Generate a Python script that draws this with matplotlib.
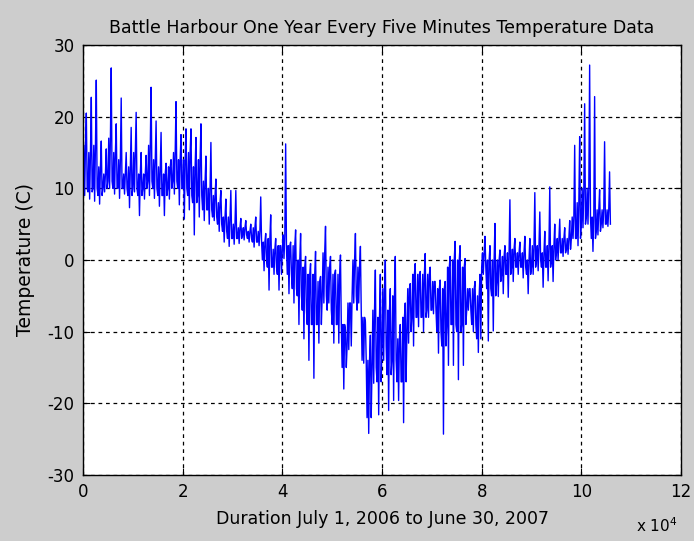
import matplotlib
matplotlib.use('Agg')
import matplotlib.pyplot as plt
import numpy as np

# per-1000-sample bins (deg C)
# extreme high / low reading in each bin
temp_hi = [20.5, 22.7, 25.1, 16.6, 15.5, 26.8, 19.0, 22.6, 15.0, 18.5,
           20.6, 15.0, 14.6, 24.1, 19.4, 17.8, 13.5, 14.0, 22.1, 17.5,
           18.3, 18.3, 17.1, 19.0, 14.5, 16.4, 11.3, 9.7, 8.5, 9.7,
           9.7, 5.8, 5.5, 5.0, 6.0, 8.8, 3.7, 6.3, 3.0, 2.0,
           16.2, 2.5, 4.2, 3.7, 0.5, -0.5, 1.2, -2.3, 4.7, 0.5,
           -1.4, 0.7, -9.8, -6.0, 3.7, 1.9, -8.6, -10.5, -1.4, -2.0,
           0.0, -4.0, 0.5, -9.0, -6.0, -3.3, -0.5, -1.6, 0.9, -1.0,
           -3.0, -2.8, -3.0, 0.5, 2.6, 2.0, 0.2, -4.0, -3.0, -2.0,
           3.3, 2.0, 5.1, 1.4, 2.0, 8.4, 3.0, 2.5, 3.3, 3.0,
           9.4, 6.7, 4.0, 10.2, 5.0, 5.7, 4.5, 5.5, 16.0, 17.2,
           21.8, 27.2, 22.8, 9.8, 16.5, 12.3]
temp_lo = [9.0, 8.5, 8.2, 7.8, 9.5, 10.0, 9.2, 8.6, 9.2, 7.3,
           9.5, 6.2, 8.5, 9.0, 8.6, 7.5, 6.2, 8.5, 9.2, 7.7,
           5.7, 7.0, 3.5, 6.0, 5.5, 5.0, 5.5, 4.0, 2.5, 1.9,
           2.2, 2.3, 2.8, 2.5, 1.8, 2.0, -1.5, -4.2, -2.0, -4.2,
           0.2, -4.7, -6.0, -9.0, -11.0, -14.0, -16.5, -11.6, -6.0, -6.0,
           -11.6, -11.6, -18.0, -12.5, -6.0, -6.0, -14.4, -24.2, -17.2, -21.6,
           -14.0, -21.0, -19.6, -19.6, -22.7, -11.6, -12.0, -9.3, -10.0, -8.0,
           -7.5, -13.0, -24.3, -14.7, -14.7, -16.7, -14.7, -7.0, -10.0, -12.9,
           -2.0, -11.3, -9.9, -5.1, -4.7, -5.2, -3.0, -2.0, -2.5, -4.7,
           -2.0, -1.5, -3.8, -2.9, -3.0, 0.0, 0.5, 0.8, 3.0, 2.0,
           4.5, 5.0, 1.2, 3.5, 4.5, 4.7]
# typical range the readings sit in for most of the bin
band_top = [16, 15, 16, 13, 12, 17, 15, 14, 12, 13,
            15, 12, 12, 16, 14, 13, 12, 13, 15, 14,
            14, 15, 13, 14, 11, 10, 9, 8, 6, 6,
            5, 4.5, 4.5, 4, 4.5, 4, 2.5, 3, 1.5, 2,
            3.5, 2, 2, 0, -1, -2, -2, -3, 1, -1,
            -2, -2, -9, -6, 0, -1, -8, -14, -7, -8,
            -4, -7, -5, -11, -8, -4, -2, -2, -2, -2,
            -3, -4, -4, -1, 0, 0, -1, -4, -4, -5,
            1, 0, 0, 0, 0.5, 1, 1.5, 1, 1, 0,
            2, 2, 1, 2, 2, 3, 3, 3, 6, 8,
            10, 10, 6, 7, 7, 7]
band_bot = [10, 9.5, 10, 9, 10, 11, 10, 10, 10, 9,
            10, 9, 10, 11, 10, 9, 9, 10, 11, 10,
            10, 9, 8, 9, 7, 7, 6, 5, 4, 3,
            3, 3, 3.5, 3, 2.5, 2.5, 0, -1, -1, -2,
            1.5, -2, -4, -5, -7, -9, -9, -9, -5, -7,
            -9, -9, -15, -12, -5, -7, -14, -22, -15, -17,
            -12, -16, -14, -17, -17, -10, -8, -8, -8, -7,
            -7, -10, -12, -9, -9, -10, -9, -7, -9, -11,
            -1, -4, -5, -3, -2, -2, -1, -1, -1, -2,
            -1, 0, -1, -1, 0, 1, 1, 1.5, 3, 3,
            5, 6, 3, 4, 5, 5]
bin_size = 1000

x_ticks = [0, 2, 4, 6, 8, 10, 12]
y_ticks = [-30, -20, -10, 0, 10, 20, 30]

# walk through each bin: band swings plus one dip and one peak
xs = []
ys = []
for k in range(len(temp_hi)):
    seq = [band_bot[k], band_top[k], temp_lo[k], band_top[k], temp_hi[k],
           band_bot[k]]
    for j, v in enumerate(seq):
        xs.append(k * bin_size + j * bin_size / len(seq))
        ys.append(v)
xs = np.array(xs) / 1e4

bg = '#cdcdcd'
fig = plt.figure(figsize=(6.94, 5.41), dpi=100, facecolor=bg)
ax = fig.add_axes([83 / 694, 66 / 541, 598 / 694, 430 / 541])

ax.plot(xs, ys, color='#0000ff', lw=1.0)

ax.set_xlim(0, 12)
ax.set_ylim(-30, 30)
ax.set_xticks(x_ticks)
ax.set_yticks(y_ticks)
ax.set_xticklabels([str(t) for t in x_ticks])
ax.set_yticklabels([str(t) for t in y_ticks])
ax.tick_params(direction='in', top=True, right=True, length=5, width=0.8,
               labelsize=12, pad=6)
ax.grid(True, color='black', linestyle=(0, (3, 3)), linewidth=0.9)
for sp in ax.spines.values():
    sp.set_linewidth(1.0)

ax.set_title('Battle Harbour One Year Every Five Minutes Temperature Data',
             fontsize=12.5, pad=9)
ax.set_xlabel('Duration July 1, 2006 to June 30, 2007', fontsize=12.5, labelpad=6)
ax.set_ylabel('Temperature (C)', fontsize=13.5, labelpad=9)
fig.text(636 / 694, 1 - 532 / 541, r'x 10$^{4}$', fontsize=11)

fig.savefig('out.png', dpi=100, facecolor=bg)
